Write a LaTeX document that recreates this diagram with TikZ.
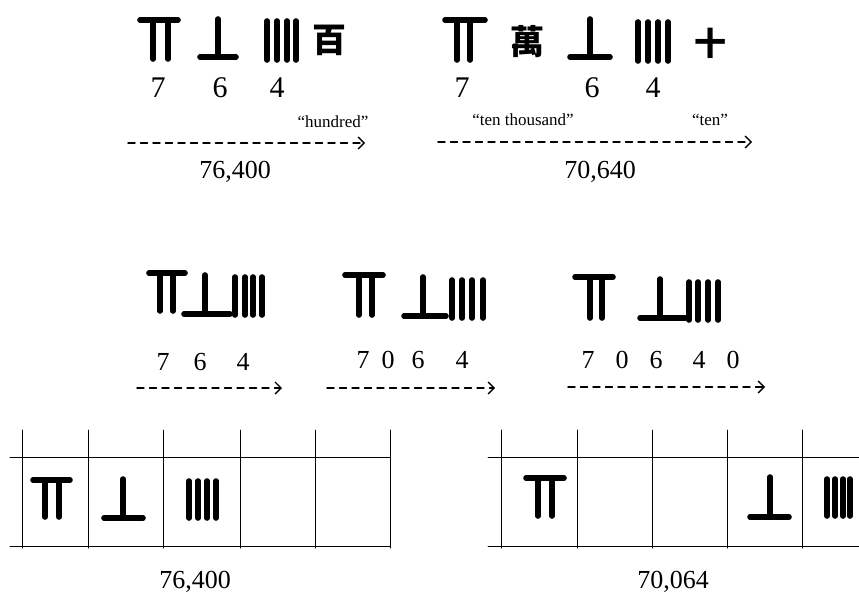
\documentclass[tikz,border=0pt]{standalone}
\usepackage{fontspec}
\setmainfont{Liberation Serif}
\newfontfamily\cjk{Noto Sans CJK TC}
\usetikzlibrary{arrows.meta}
\begin{document}
\begin{tikzpicture}[x=1pt, y={(0pt,-1pt)}, line join=round, line cap=round]
	\tikzset{rod/.style={line width=5.6pt, line cap=round},
		dasharrow/.style={line width=1.4pt, dash pattern=on 7pt off 5.5pt, -{Straight Barb[length=6pt,width=12pt,line width=1.4pt]}},
		grid/.style={line width=1pt},
		digit/.style={inner sep=0pt, font=\fontsize{30}{30}\selectfont},
		digitsm/.style={inner sep=0pt, font=\fontsize{26}{26}\selectfont},
		word/.style={inner sep=0pt, font=\fontsize{17}{17}\selectfont},
		hanzi/.style={inner sep=0pt, font=\fontsize{34}{34}\cjk\bfseries}}
	\useasboundingbox (0,0) rectangle (859,602);
	% top left: 7 6 4 hundred
	\draw[rod] (140,20)--(178,20) (153,20)--(153,59) (168,20)--(168,59);
	\draw[rod] (218,19)--(218,56) (200,57)--(236,57);
	\foreach \x in {267,277,287,296} \draw[rod] (\x,21)--(\x,60);
	\node[hanzi] (bai) at (329,40) {百};
	\foreach \x/\d [count=\i] in {158/7,220/6,277/4} \node[digit] (ta\i) at (\x,88) {\d};
	\node[word] (hundred) at (333,122) {“hundred”};
	\coordinate (a1s) at (128,143); \coordinate (a1e) at (365,143);
	\draw[dasharrow] (a1s)--(a1e);
	\node[digitsm] (na) at (235,172) {76,400};
	% top right: 7 wan 6 4 ten
	\draw[rod] (445,20)--(485,20) (457,20)--(457,60) (470,20)--(470,60);
	\node[hanzi] (wan) at (527,42) {萬};
	\draw[rod] (590,19)--(590,56) (570,57)--(610,57);
	\foreach \x in {638,648,658,668} \draw[rod] (\x,22)--(\x,61);
	\node[hanzi, font=\fontsize{32}{32}\cjk\bfseries] (shi) at (710,43) {十};
	\foreach \x/\d [count=\i] in {462/7,592/6,653/4} \node[digit] (tb\i) at (\x,88) {\d};
	\node[word] (tenthousand) at (523,120) {“ten thousand”};
	\node[word] (ten) at (710,120) {“ten”};
	\coordinate (a2s) at (438,142); \coordinate (a2e) at (752,142);
	\draw[dasharrow] (a2s)--(a2e);
	\node[digitsm] (nb) at (600,172) {70,640};
	% middle row
	\draw[rod] (149,273)--(185,273) (160,273)--(160,311) (173,273)--(173,311);
	\draw[rod] (205,275)--(205,313) (184,314)--(230,314);
	\foreach \x in {235,245,253,262} \draw[rod] (\x,277)--(\x,315);
	\draw[rod] (345,275)--(383,275) (359,275)--(359,315) (372,275)--(372,315);
	\draw[rod] (423,277)--(423,315) (404,316)--(446,316);
	\foreach \x in {452,462,472,483} \draw[rod] (\x,280)--(\x,318);
	\draw[rod] (575,277)--(613,277) (590,277)--(590,318) (602,277)--(602,318);
	\draw[rod] (660,279)--(660,317) (640,318)--(685,318);
	\foreach \x in {689,698,708,718} \draw[rod] (\x,282)--(\x,320);
	\foreach \x/\d [count=\i] in {163/7,200/6,243/4} \node[digitsm] (ma\i) at (\x,362) {\d};
	\foreach \x/\d [count=\i] in {363/7,388/0,418/6,462/4} \node[digitsm] (mb\i) at (\x,360) {\d};
	\foreach \x/\d [count=\i] in {588/7,622/0,656/6,699/4,733/0} \node[digitsm] (mc\i) at (\x,360) {\d};
	\coordinate (b1s) at (137,388); \coordinate (b1e) at (282,388);
	\coordinate (b2s) at (327,388); \coordinate (b2e) at (495,388);
	\coordinate (b3s) at (568,387); \coordinate (b3e) at (765,387);
	\foreach \k in {1,2,3} \draw[dasharrow] (b\k s)--(b\k e);
	% counting boards
	\foreach \x in {22,88,163,240,315,390} \draw[grid] (\x,430)--(\x,548);
	\draw[grid] (10,457)--(390,457) (10,546)--(390,546);
	\foreach \x in {501,577,652,727,802} \draw[grid] (\x,430)--(\x,548);
	\draw[grid] (488,457)--(859,457) (488,546)--(859,546);
	\draw[rod] (33,480)--(70,480) (45,480)--(45,517) (59,480)--(59,517);
	\draw[rod] (123,479)--(123,516) (104,518)--(143,518);
	\foreach \x in {189,198,207,216} \draw[rod] (\x,481)--(\x,518);
	\draw[rod] (526,478)--(564,478) (538,478)--(538,516) (552,478)--(552,516);
	\draw[rod] (770,477)--(770,515) (750,517)--(789,517);
	\foreach \x in {827,835,843,850} \draw[rod] (\x,479)--(\x,516);
	\node[digitsm] (nc) at (195,582) {76,400};
	\node[digitsm] (nd) at (673,582) {70,064};
\end{tikzpicture}
\end{document}
